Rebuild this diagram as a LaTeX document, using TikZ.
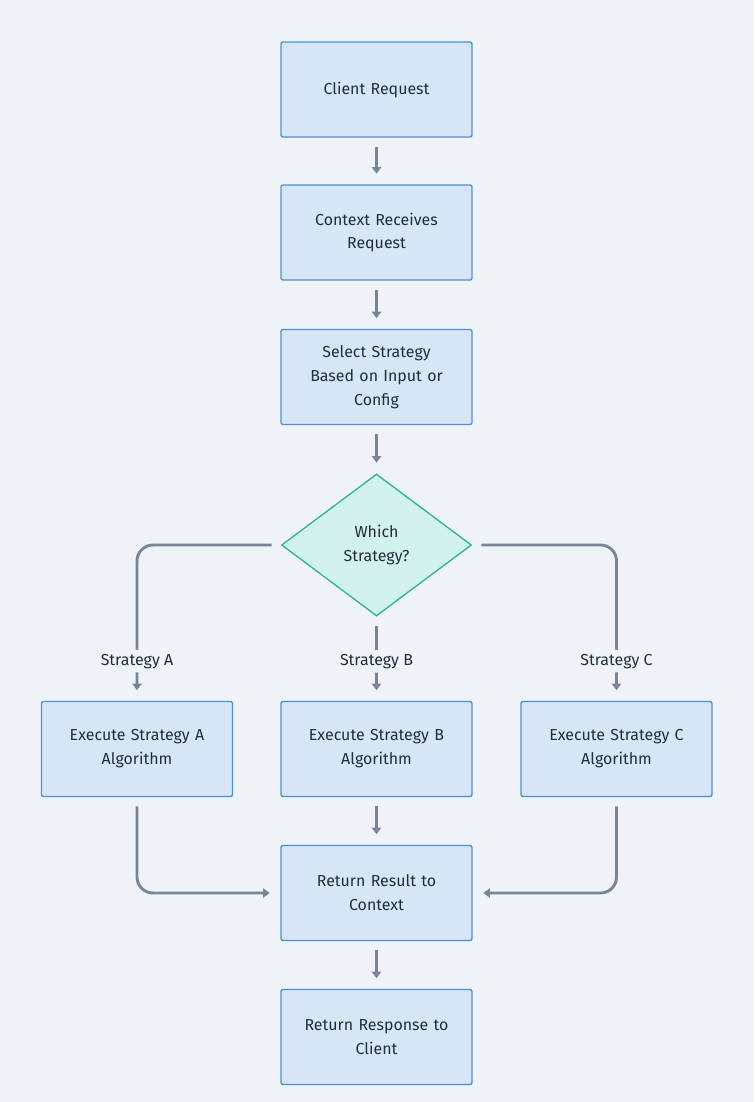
\documentclass[tikz,border=0pt]{standalone}
\usepackage{fontspec}
\setmainfont{Fira Sans}
\usetikzlibrary{arrows.meta,shapes.geometric,positioning}
\definecolor{bgc}{HTML}{EFF3F7}
\definecolor{boxfill}{HTML}{D6E6F6}
\definecolor{boxline}{HTML}{4A90D9}
\definecolor{decfill}{HTML}{D3F1EC}
\definecolor{decline}{HTML}{2BB59B}
\definecolor{arr}{HTML}{76869A}
\definecolor{txt}{HTML}{1F2D3D}
\begin{document}
\begin{tikzpicture}[x=0.02646cm,y=-0.02646cm,>={Triangle[length=5pt,width=7pt]},
  font=\fontsize{12pt}{18pt}\selectfont, text=txt]
\tikzset{
  stepbox/.style={draw=boxline, fill=boxfill, line width=1pt, rounded corners=1.5pt,
    minimum width=191*0.02646cm, minimum height=95*0.02646cm, align=center, text width=160*0.02646cm},
  choice/.style={draw=decline, fill=decfill, line width=1pt, diamond, aspect=1.34,
    minimum width=190*0.02646cm, minimum height=142*0.02646cm, inner sep=0pt, align=center},
  flow/.style={->, draw=arr, line width=2.2pt, rounded corners=12pt},
  lbl/.style={fill=bgc, inner sep=3pt}
}
\fill[bgc] (0,0) rectangle (754,1102);
\node[stepbox] (client) at (376.5,89.5) {Client Request};
\node[stepbox] (context) at (376.5,232.5) {Context Receives\\Request};
\node[stepbox] (select) at (376.5,377) {Select Strategy\\Based on Input or\\Config};
\node[choice] (which) at (376.5,545) {Which\\Strategy?};
\node[stepbox] (execA) at (137,749) {Execute Strategy A\\Algorithm};
\node[stepbox] (execB) at (376.5,749) {Execute Strategy B\\Algorithm};
\node[stepbox] (execC) at (616.5,749) {Execute Strategy C\\Algorithm};
\node[stepbox] (result) at (376.5,893) {Return Result to\\Context};
\node[stepbox] (response) at (376.5,1037) {Return Response to\\Client};
\coordinate (lt) at (137,545);
\coordinate (rt) at (616.5,545);
\coordinate (lb) at (137,893);
\coordinate (rb) at (616.5,893);
\draw[flow] ([yshift=-7]client.south) -- ([yshift=8]context.north);
\draw[flow] ([yshift=-7]context.south) -- ([yshift=8]select.north);
\draw[flow] ([yshift=-7]select.south) -- ([yshift=8]which.north);
\draw[flow] ([xshift=-7]which.west) -- (lt) -- node[lbl, pos=0.8] {Strategy A} ([yshift=8]execA.north);
\draw[flow] ([yshift=-7]which.south) -- node[lbl, pos=0.55] {Strategy B} ([yshift=8]execB.north);
\draw[flow] ([xshift=7]which.east) -- (rt) -- node[lbl, pos=0.8] {Strategy C} ([yshift=8]execC.north);
\draw[flow] ([yshift=-7]execA.south) -- (lb) -- ([xshift=-8]result.west);
\draw[flow] ([yshift=-7]execB.south) -- ([yshift=8]result.north);
\draw[flow] ([yshift=-7]execC.south) -- (rb) -- ([xshift=8]result.east);
\draw[flow] ([yshift=-7]result.south) -- ([yshift=8]response.north);
\end{tikzpicture}
\end{document}
